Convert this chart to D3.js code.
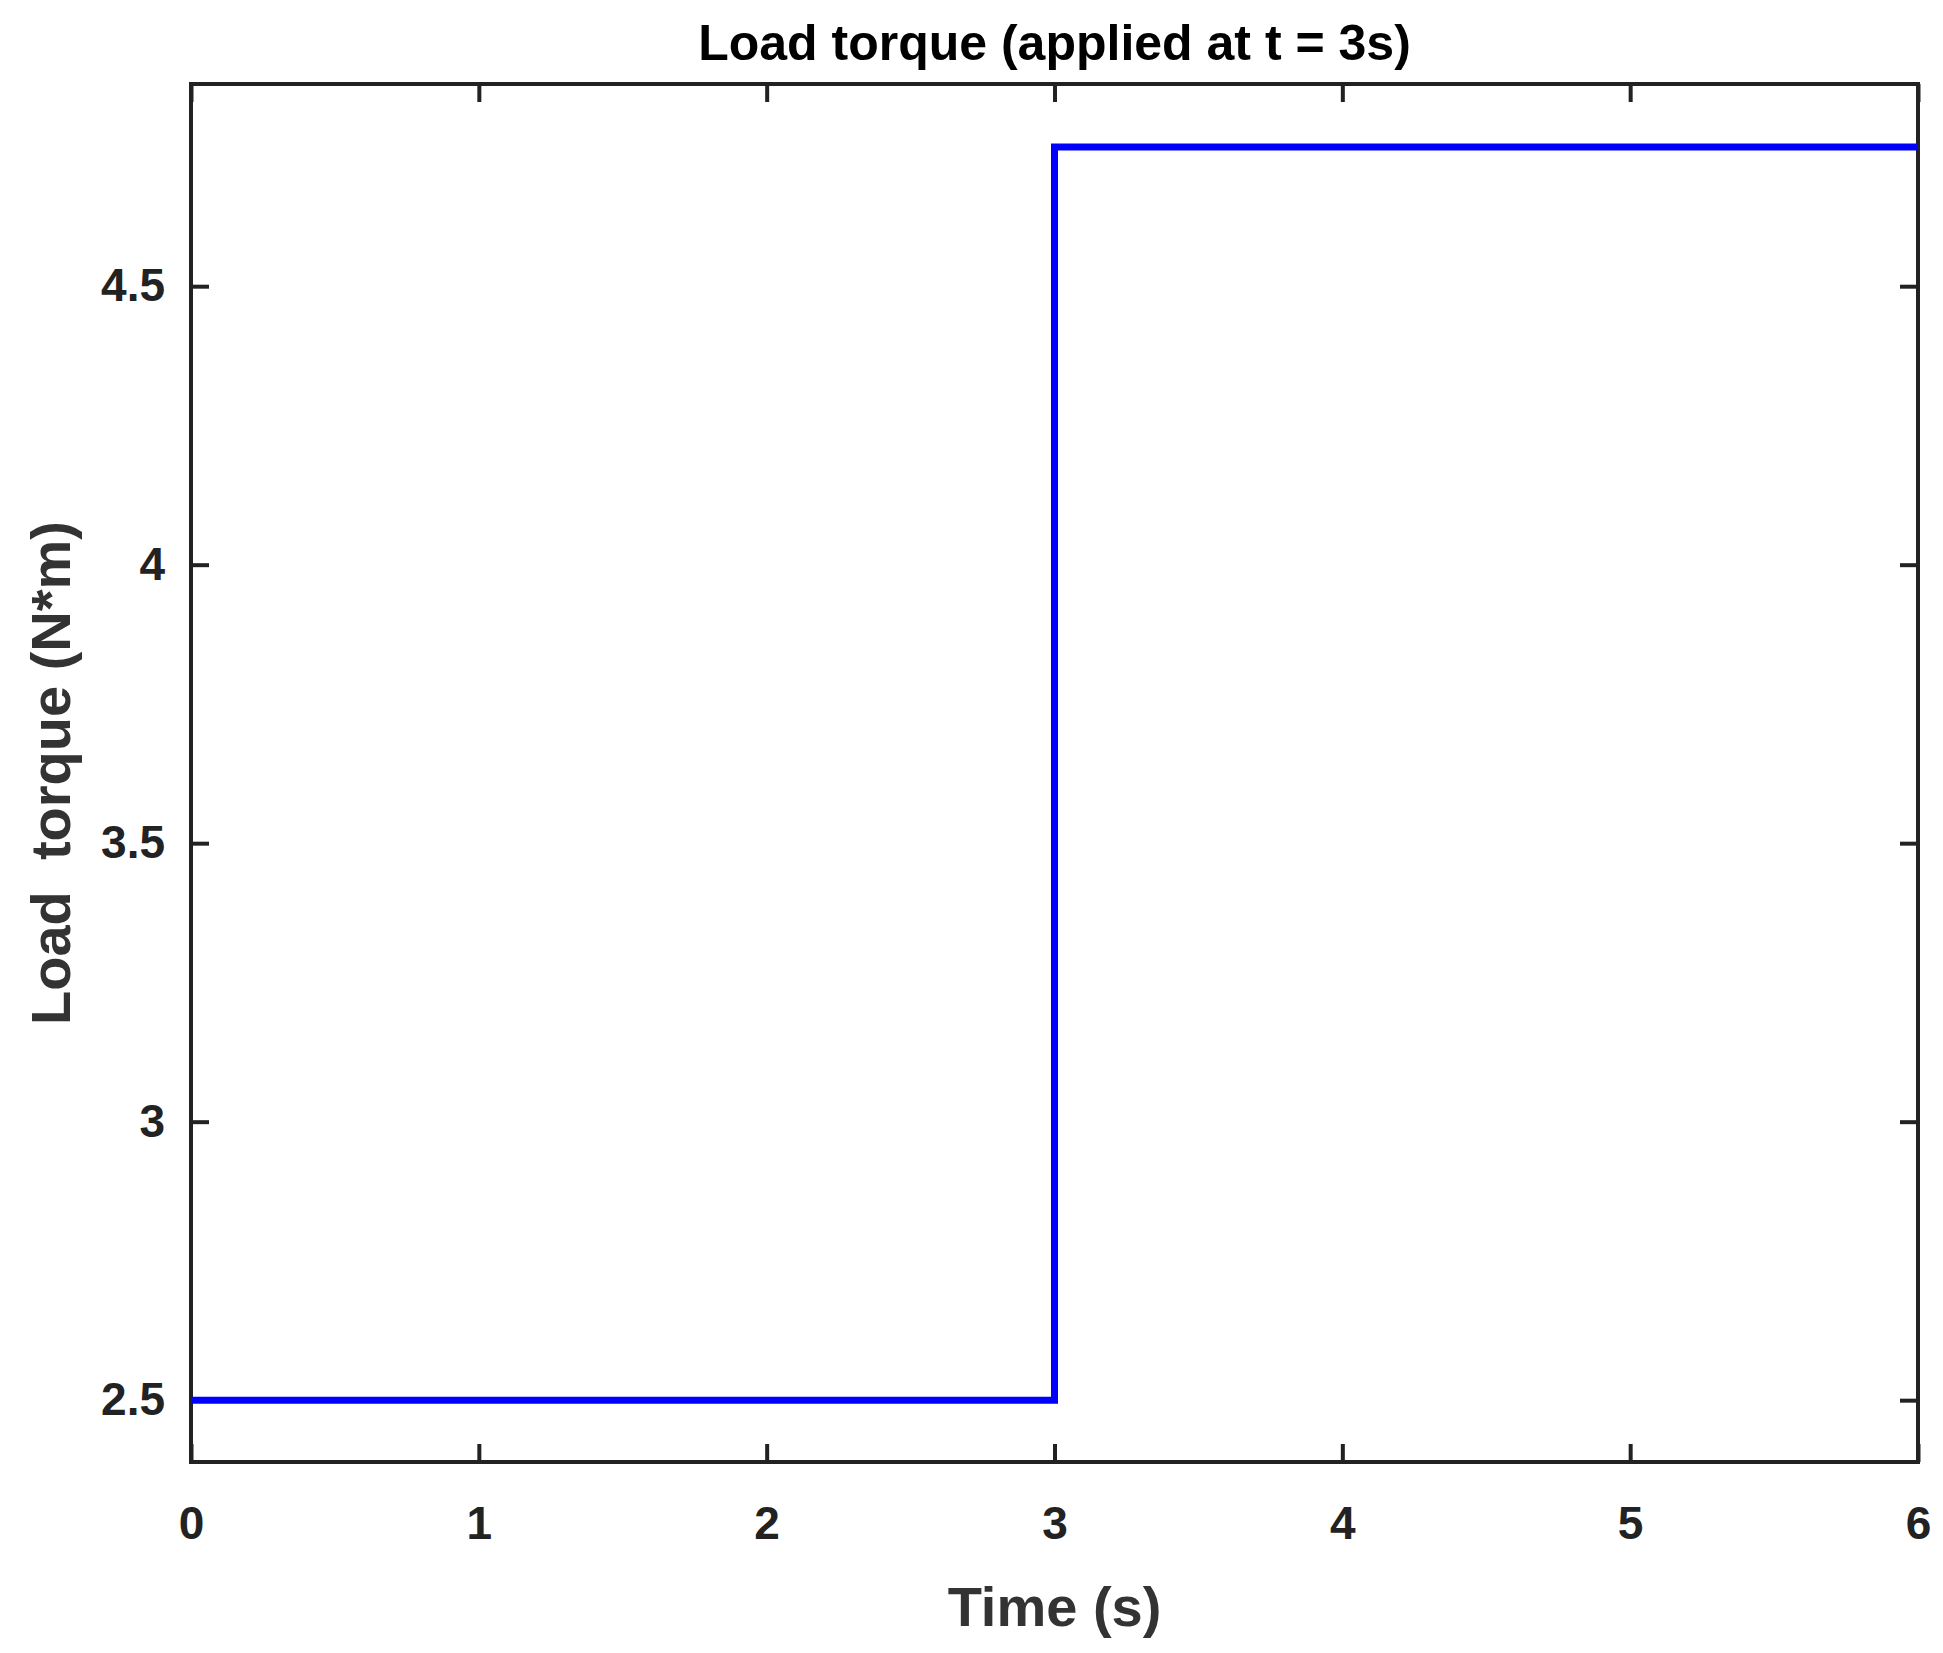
<!DOCTYPE html>
<html><head><meta charset="utf-8">
<script src="https://cdn.jsdelivr.net/npm/d3@7"></script>
<style>body{margin:0;background:#fff}text{font-family:"Liberation Sans",Arial,sans-serif;font-weight:bold}</style>
</head><body>
<svg id="c" width="1943" height="1653"></svg>
<script>
const times = [0, 3, 3, 6];
const torque = [2.5, 2.5, 4.75, 4.75];
const xTicks = [0, 1, 2, 3, 4, 5, 6];
const yTicks = [2.5, 3, 3.5, 4, 4.5];

const margin = { top: 84, right: 25, bottom: 191, left: 191 };
const width = 1943 - margin.left - margin.right;
const height = 1653 - margin.top - margin.bottom;
const svg = d3.select("#c");
const g = svg.append("g").attr("transform", `translate(${margin.left},${margin.top})`);

const x = d3.scaleLinear().domain([0, 6]).range([0, width]);
const y = d3.scaleLinear().domain([2.389, 4.863]).range([height, 0]);

// ticks on all four sides, pointing inward
function styleAxis(sel) {
  sel.select(".domain").remove();
  sel.selectAll("line").attr("stroke", "#222").attr("stroke-width", 4);
  sel.selectAll("text").attr("fill", "#222").style("font-size", "46px");
}
g.append("g").attr("transform", `translate(0,${height})`)
  .call(d3.axisBottom(x).tickValues(xTicks).tickSize(-18).tickPadding(44).tickFormat(d3.format("d")))
  .call(styleAxis);
g.append("g")
  .call(d3.axisTop(x).tickValues(xTicks).tickSize(-18).tickFormat(""))
  .call(styleAxis);
g.append("g")
  .call(d3.axisLeft(y).tickValues(yTicks).tickSize(-18).tickPadding(26).tickFormat(d => d))
  .call(styleAxis);
g.append("g").attr("transform", `translate(${width},0)`)
  .call(d3.axisRight(y).tickValues(yTicks).tickSize(-18).tickFormat(""))
  .call(styleAxis);

g.append("rect").attr("width", width).attr("height", height)
  .attr("fill", "none").attr("stroke", "#222").attr("stroke-width", 4);

const line = d3.line().x((d, i) => x(times[i])).y(d => y(d));
g.append("path").datum(torque).attr("d", line)
  .attr("fill", "none").attr("stroke", "#0000ff").attr("stroke-width", 7);

svg.append("text").attr("x", margin.left + width / 2).attr("y", 60)
  .attr("text-anchor", "middle").style("font-size", "50px").attr("fill", "#000")
  .text("Load torque (applied at t = 3s)");
svg.append("text").attr("x", margin.left + width / 2).attr("y", 1626)
  .attr("text-anchor", "middle").style("font-size", "56px").attr("fill", "#333")
  .text("Time (s)");
svg.append("text").attr("transform", `translate(70,${margin.top + height / 2}) rotate(-90)`)
  .attr("text-anchor", "middle").style("font-size", "56px").attr("fill", "#333")
  .attr("xml:space", "preserve").style("white-space", "pre")
  .text("Load  torque (N*m)");
</script>
</body></html>
